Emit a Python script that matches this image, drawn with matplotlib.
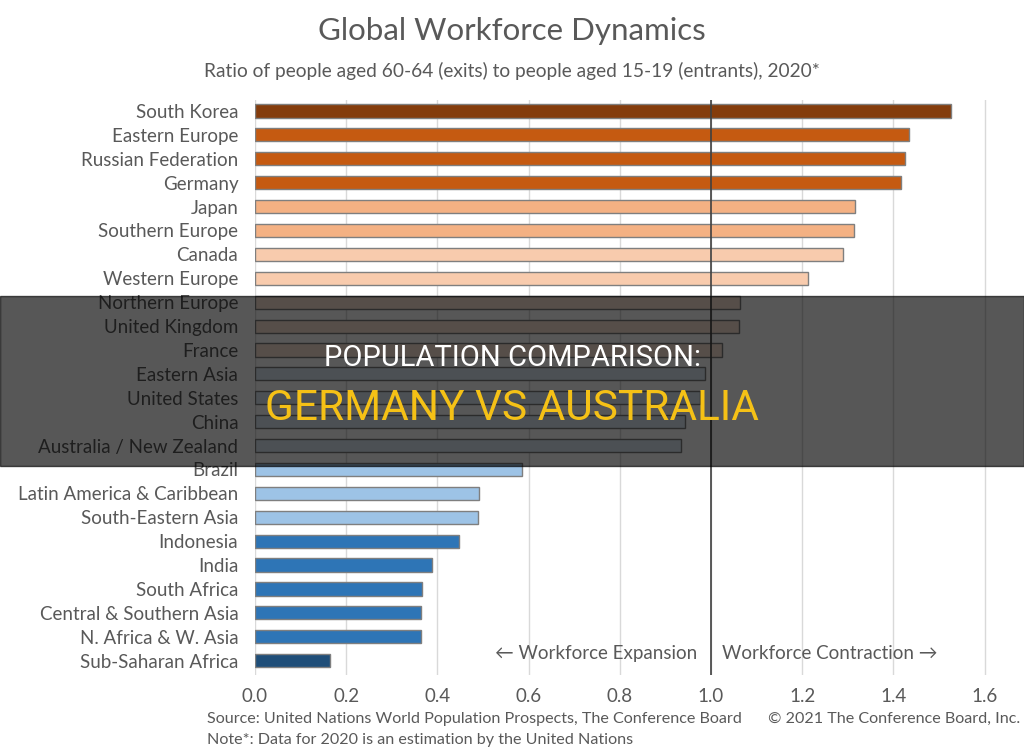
import matplotlib

matplotlib.use("Agg")
import matplotlib.pyplot as plt
from matplotlib.patches import Rectangle

plt.rcParams["font.family"] = ["Lato", "DejaVu Sans"]

categories = [
    "South Korea", "Eastern Europe", "Russian Federation", "Germany", "Japan",
    "Southern Europe", "Canada", "Western Europe", "Northern Europe",
    "United Kingdom", "France", "Eastern Asia", "United States", "China",
    "Australia / New Zealand", "Brazil", "Latin America & Caribbean",
    "South-Eastern Asia", "Indonesia", "India", "South Africa",
    "Central & Southern Asia", "N. Africa & W. Asia", "Sub-Saharan Africa",
]
ratios = [
    1.526, 1.435, 1.425, 1.417, 1.316, 1.314, 1.290, 1.213, 1.064, 1.061,
    1.024, 0.987, 0.976, 0.943, 0.934, 0.585, 0.491, 0.489, 0.447, 0.389,
    0.366, 0.365, 0.363, 0.164,
]
bar_colors = (
    ["#843C0C"] + ["#C55A11"] * 3 + ["#F4B183"] * 2 + ["#F8CBAD"] * 2
    + ["#FBE5D6"] * 3 + ["#DEEBF7"] * 4 + ["#9DC3E6"] * 3
    + ["#2E75B6"] * 5 + ["#1F4E79"]
)
x_ticks = [0.0, 0.2, 0.4, 0.6, 0.8, 1.0, 1.2, 1.4, 1.6]

TXT = "#595959"

fig = plt.figure(figsize=(10.24, 7.54), dpi=100)
# axes spans x 255..1021 px, y 100..675 px
ax = fig.add_axes([255 / 1024, 1 - 675 / 754, (1021 - 255) / 1024, 575 / 754])

y = list(range(len(categories)))
ax.barh(y, ratios, height=0.55, color=bar_colors, edgecolor="#7F7F7F",
        linewidth=1.0, zorder=3)
ax.set_ylim(23.6, -0.46)
ax.set_xlim(0, 1.68)

ax.set_yticks(y)
ax.set_yticklabels(categories, fontsize=13.5, color=TXT)
ax.set_xticks(x_ticks)
ax.set_xticklabels([f"{t:.1f}" for t in x_ticks], fontsize=13.5, color=TXT)
ax.tick_params(axis="both", length=0)
ax.tick_params(axis="y", pad=12)
ax.tick_params(axis="x", pad=9)
ax.grid(axis="x", color="#D9D9D9", linewidth=1.0, zorder=0)
for s in ax.spines.values():
    s.set_visible(False)
ax.axvline(1.0, color="#404040", linewidth=1.2, zorder=4)

ax.text(0.97, 22.68, "\u2190 Workforce Expansion", ha="right", va="center",
        fontsize=13.5, color=TXT)
ax.text(1.025, 22.68, "Workforce Contraction \u2192", ha="left", va="center",
        fontsize=13.5, color=TXT)

fig.text(0.5, 1 - 31 / 754, "Global Workforce Dynamics", ha="center",
         va="center", fontsize=22.5, color=TXT)
fig.text(0.5, 1 - 71 / 754,
         "Ratio of people aged 60-64 (exits) to people aged 15-19 (entrants), 2020*",
         ha="center", va="center", fontsize=13.8, color=TXT)
fig.text(207 / 1024, 1 - 719 / 754,
         "Source: United Nations World Population Prospects, The Conference Board",
         ha="left", va="center", fontsize=11.6, color=TXT)
fig.text(1020 / 1024, 1 - 719 / 754, "\u00a9 2021 The Conference Board, Inc.",
         ha="right", va="center", fontsize=11.6, color=TXT)
fig.text(207 / 1024, 1 - 740 / 754,
         "Note*: Data for 2020 is an estimation by the United Nations",
         ha="left", va="center", fontsize=11.6, color=TXT)

# dark banner overlay
fig.patches.append(Rectangle((0, 1 - 466 / 754), 1, 170 / 754,
                             transform=fig.transFigure, color="black",
                             alpha=0.66, zorder=10))
fig.text(0.5, 1 - 358 / 754, "POPULATION COMPARISON:", ha="center",
         va="center", fontsize=21, color="white", zorder=11,
         family=["Roboto", "DejaVu Sans"])
fig.text(0.5, 1 - 408 / 754, "GERMANY VS AUSTRALIA", ha="center",
         va="center", fontsize=30.5, color="#F5C116", zorder=11,
         family=["Roboto", "DejaVu Sans"])

fig.savefig("out.png", dpi=100)
